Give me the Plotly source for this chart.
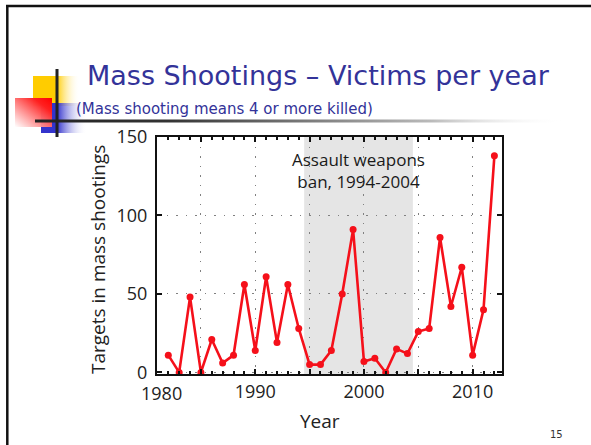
import base64
import plotly.graph_objects as go

# ---- data ----
years = list(range(1982, 2013))
victims = [11, 0, 48, 0, 21, 6, 11, 56, 14, 61, 19, 56, 28,
           5, 5, 14, 50, 91, 7, 9, 0, 15, 12, 26, 28, 86, 42, 67, 11, 40, 138]
ban_start, ban_end = 1994.5, 2004.5
ban_label = "Assault weapons<br>ban, 1994-2004"
x_tickvals = [1985, 1990, 1995, 2000, 2005, 2010]
x_ticktext = ["", "1990", "", "2000", "", "2010"]
y_tickvals = [0, 50, 100, 150]
title_text = "Mass Shootings \u2013 Victims per year"
subtitle_text = "(Mass shooting means 4 or more killed)"

# ---- layout geometry (pixels) ----
FW, FH = 591, 445
L, R, T, B = 157, 502, 137, 374
W, H = R - L, B - T


def px(x):
    return (x - L) / W


def py(y):
    return (B - y) / H


svg = f'''<svg xmlns="http://www.w3.org/2000/svg" width="{FW}" height="{FH}" viewBox="0 0 {FW} {FH}">
<defs>
<linearGradient id="gy" x1="0" y1="0" x2="1" y2="0">
<stop offset="0" stop-color="#ffcc00"/><stop offset="0.5" stop-color="#ffcc00"/><stop offset="1" stop-color="#ffffff" stop-opacity="0"/></linearGradient>
<linearGradient id="gb" x1="0" y1="0" x2="1" y2="0">
<stop offset="0" stop-color="#3333cc"/><stop offset="0.35" stop-color="#3333cc"/><stop offset="1" stop-color="#ffffff" stop-opacity="0"/></linearGradient>
<linearGradient id="gr" x1="1" y1="0" x2="0" y2="1">
<stop offset="0" stop-color="#ff0000"/><stop offset="0.25" stop-color="#ff2020"/><stop offset="1" stop-color="#ffffff" stop-opacity="0.9"/></linearGradient>
<linearGradient id="gl" x1="0" y1="0" x2="1" y2="0">
<stop offset="0" stop-color="#222222"/><stop offset="0.25" stop-color="#333333"/><stop offset="0.75" stop-color="#bbbbbb"/><stop offset="1" stop-color="#ffffff" stop-opacity="0"/></linearGradient>
</defs>
<rect x="0" y="0" width="{FW}" height="{FH}" fill="#ffffff"/>
<line x1="6" y1="6" x2="{FW}" y2="6" stroke="#111" stroke-width="2.5"/>
<line x1="7.3" y1="5" x2="7.3" y2="{FH}" stroke="#111" stroke-width="2.5"/>
<rect x="33" y="76" width="47" height="30" fill="url(#gy)"/>
<rect x="41" y="103" width="46" height="30" fill="url(#gb)"/>
<rect x="15" y="98" width="37" height="29" fill="url(#gr)"/>
<rect x="35" y="119.5" width="530" height="3" fill="url(#gl)"/>
<rect x="55.5" y="69" width="3" height="68" fill="#222222"/>
</svg>'''
src = "data:image/svg+xml;base64," + base64.b64encode(svg.encode()).decode()

fig = go.Figure()
fig.add_trace(go.Scatter(
    x=years, y=victims, mode="lines+markers",
    line=dict(color="#f5101a", width=2.6),
    marker=dict(color="#f5101a", size=7),
    showlegend=False, hoverinfo="skip",
))

fig.add_shape(type="rect", xref="x", yref="paper", x0=ban_start, x1=ban_end,
              y0=0, y1=1, fillcolor="#e5e5e5", line=dict(width=0), layer="below")

axis_font = dict(family="Open Sans, Liberation Sans, sans-serif", size=18, color="#222222")
grid_style = dict(showgrid=True, gridcolor="#808080", griddash="1.5px,8px", gridwidth=1.4)

fig.update_xaxes(
    range=[1980.96, 2012.7], tickvals=x_tickvals, ticktext=x_ticktext,
    ticks="inside", ticklen=5, tickwidth=1.5, tickcolor="#111",
    showline=True, linewidth=2, linecolor="#111", mirror="ticks",
    zeroline=False, tickfont=axis_font,
    minor=dict(dtick=1, tick0=1980, ticks="inside", ticklen=3, tickcolor="#111", showgrid=False),
    **grid_style,
)
fig.update_yaxes(
    range=[-1, 150], tickvals=y_tickvals,
    ticks="inside", ticklen=5, tickwidth=1.5, tickcolor="#111",
    showline=True, linewidth=2, linecolor="#111", mirror="ticks",
    zeroline=False, tickfont=axis_font, ticklabelstandoff=4,
    **grid_style,
)

annotations = [
    dict(text=title_text, x=px(85), y=py(75), xref="paper", yref="paper",
         xanchor="left", yanchor="middle", showarrow=False,
         font=dict(family="DejaVu Sans, sans-serif", size=27, color="#333399")),
    dict(text=subtitle_text, x=px(74), y=py(109), xref="paper", yref="paper",
         xanchor="left", yanchor="middle", showarrow=False,
         font=dict(family="DejaVu Sans, sans-serif", size=15, color="#333399")),
    dict(text=ban_label, x=(ban_start + ban_end) / 2, y=py(170), xref="x", yref="paper",
         xanchor="center", yanchor="middle", showarrow=False,
         font=dict(family="Open Sans, sans-serif", size=17, color="#1a1a1a")),
    dict(text="1980", x=px(161), y=py(393), xref="paper", yref="paper",
         xanchor="center", yanchor="middle", showarrow=False, font=axis_font),
    dict(text="Year", x=px(320), y=py(421), xref="paper", yref="paper",
         xanchor="center", yanchor="middle", showarrow=False,
         font=dict(family="Open Sans, sans-serif", size=19, color="#222222")),
    dict(text="Targets in mass shootings", x=px(98), y=py(260), xref="paper", yref="paper",
         xanchor="center", yanchor="middle", showarrow=False, textangle=-90,
         font=dict(family="Open Sans, sans-serif", size=19, color="#222222")),
    dict(text="15", x=px(556), y=py(434), xref="paper", yref="paper",
         xanchor="center", yanchor="middle", showarrow=False,
         font=dict(family="DejaVu Sans, sans-serif", size=10, color="#333333")),
]

fig.update_layout(
    width=FW, height=FH,
    margin=dict(l=L, r=FW - R, t=T, b=FH - B, autoexpand=False),
    paper_bgcolor="#ffffff", plot_bgcolor="rgba(0,0,0,0)",
    annotations=annotations,
    images=[dict(source=src, xref="paper", yref="paper", x=px(0), y=py(0),
                 sizex=FW / W, sizey=FH / H, xanchor="left", yanchor="top",
                 sizing="stretch", layer="below")],
)

fig.write_html("out.html", config={"displayModeBar": False},
               post_script="document.body.style.margin='0';document.body.style.overflow='hidden';")
